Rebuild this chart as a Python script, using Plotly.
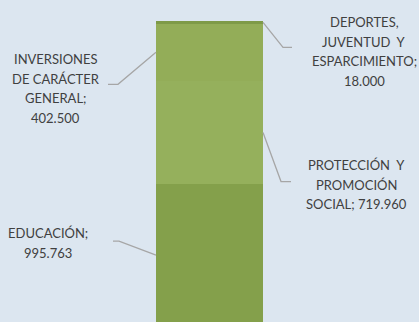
import plotly.graph_objects as go

# ---- data ----
categories = ["EDUCACIÓN", "PROTECCIÓN Y PROMOCIÓN SOCIAL",
              "INVERSIONES DE CARÁCTER GENERAL", "DEPORTES, JUVENTUD Y ESPARCIMIENTO"]
values = [995763, 719960, 402500, 18000]
label_texts = ["EDUCACIÓN;<br>995.763",
               "PROTECCIÓN\u00a0 Y<br>PROMOCIÓN<br>SOCIAL; 719.960",
               "INVERSIONES<br>DE CARÁCTER<br>GENERAL;<br>402.500",
               "DEPORTES,<br>JUVENTUD\u00a0 Y<br>ESPARCIMIENTO;<br>18.000"]

# ---- style ----
colors = ["#84a04b", "#95b05c", "#93ad58", "#7e9a48"]
bg = "#dce6f0"
text_color = "#404040"
line_color = "#a6a6a6"
bar_w = 0.2554
half = bar_w / 2
line_gap = 19.5
# side, leader path (pixels, y up), text block centre shift
sides = [-1, 1, -1, 1]
leader_paths = ["M0,0 L-37,14 L-43,14",
                "M0,0 L18,-49 L28,-49",
                "M0,0 L-38,-32 L-48,-32",
                "M0,0 L20,-25 L29,-25"]
text_shifts = [(-108, 12), (93, -52), (-100, -36), (101, -29)]

fig = go.Figure()
for cat, v, c in zip(categories, values, colors):
    fig.add_trace(go.Bar(x=[0], y=[v], name=cat, marker=dict(color=c, line=dict(width=0)),
                         width=bar_w, hoverinfo="name+y"))

cum = 0
for i, v in enumerate(values):
    mid = cum + v / 2
    cum += v
    xa = sides[i] * half
    fig.add_shape(type="path", xref="x", yref="y", xsizemode="pixel", ysizemode="pixel",
                  xanchor=xa, yanchor=mid, path=leader_paths[i],
                  line=dict(color=line_color, width=1.3))
    lines = label_texts[i].split("<br>")
    n = len(lines)
    for j, ln in enumerate(lines):
        fig.add_annotation(x=xa, y=mid, xref="x", yref="y", text=ln,
                           showarrow=False, xshift=text_shifts[i][0],
                           yshift=text_shifts[i][1] - (j - (n - 1) / 2) * line_gap,
                           align="center", xanchor="center", yanchor="middle",
                           font=dict(family="Lato", size=13, color=text_color))

total = sum(values)
fig.update_layout(
    width=419, height=322,
    margin=dict(l=0, r=0, t=21, b=0),
    paper_bgcolor=bg, plot_bgcolor=bg,
    barmode="stack", showlegend=False,
    xaxis=dict(range=[-0.5, 0.5], visible=False, fixedrange=True),
    yaxis=dict(range=[30000, total], visible=False, fixedrange=True),
)
fig.write_html("out.html", post_script="document.body.style.margin='0';",
               config={"displayModeBar": False})
